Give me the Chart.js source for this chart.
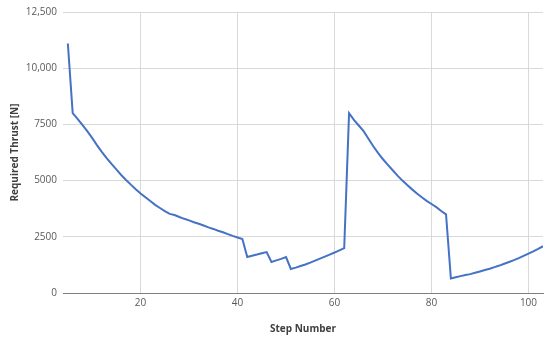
<!DOCTYPE html>
<html>
<head>
<meta charset="utf-8">
<script src="https://cdn.jsdelivr.net/npm/chart.js@4"></script>
<style>
  html, body { margin: 0; padding: 0; background: #fff; }
  #wrap { width: 550px; height: 339px; }
</style>
</head>
<body>
<div id="wrap"><canvas id="thrustChart" width="550" height="339"></canvas></div>
<script>
// step numbers 5..103
const steps = []
for (let s = 5; s <= 103; s++) steps.push(s)

const thrust = [
  11100, 8000, 7750, 7480, 7200, 6900, 6580, 6280, 6000, 5740,   // 5-14
  5500, 5250, 5030, 4820, 4620, 4430, 4260, 4090, 3920, 3780,    // 15-24
  3640, 3520, 3470, 3380, 3300, 3230, 3150, 3080, 3000, 2920,    // 25-34
  2850, 2770, 2700, 2620, 2540, 2470, 2400, 1600, 1660, 1710,    // 35-44
  1770, 1820, 1380, 1450, 1520, 1600, 1070, 1130, 1200, 1270,    // 45-54
  1350, 1440, 1530, 1620, 1710, 1800, 1900, 2000, 8000, 7700,    // 55-64
  7450, 7200, 6860, 6530, 6220, 5950, 5700, 5460, 5220, 5000,    // 65-74
  4800, 4610, 4430, 4260, 4100, 3960, 3820, 3650, 3500, 650,     // 75-84
  700, 750, 800, 840, 900, 960, 1020, 1080, 1150, 1220,          // 85-94
  1300, 1380, 1460, 1550, 1650, 1750, 1850, 1960, 2080           // 95-103
]

const xTicks = [20, 40, 60, 80, 100]
const yTicks = [0, 2500, 5000, 7500, 10000, 12500]
const yTickLabels = ["0", "2500", "5000", "7500", "10,000", "12,500"]

const font = "'Open Sans', 'Liberation Sans', sans-serif"

new Chart(document.getElementById('thrustChart'), {
  type: 'line',
  data: {
    datasets: [{
      data: steps.map((s, i) => ({ x: s, y: thrust[i] })),
      borderColor: '#4472C4',
      borderWidth: 2,
      pointRadius: 0,
      tension: 0,
      fill: false
    }]
  },
  options: {
    responsive: false,
    animation: false,
    layout: { padding: { top: 11, right: 7, left: 0, bottom: 0 } },
    plugins: { legend: { display: false }, tooltip: { enabled: false } },
    scales: {
      x: {
        type: 'linear',
        min: 4,
        max: 103,
        afterBuildTicks: axis => { axis.ticks = xTicks.map(v => ({ value: v })) },
        afterFit: axis => { axis.height = 46 },
        ticks: { color: '#595959', font: { family: font, size: 10 }, padding: 4, maxRotation: 0 },
        grid: { color: '#d9d9d9', lineWidth: 1, drawTicks: false },
        border: { display: true, color: '#7f7f7f', width: 1 },
        title: {
          display: true, text: 'Step Number', color: '#404040',
          font: { family: font, size: 10, weight: 'bold' }, padding: { top: 10 }
        }
      },
      y: {
        min: 0,
        max: 12500,
        afterBuildTicks: axis => { axis.ticks = yTicks.map(v => ({ value: v })) },
        afterFit: axis => { axis.width = 63 },
        ticks: {
          color: '#595959', font: { family: font, size: 10 }, padding: 6,
          callback: v => yTickLabels[yTicks.indexOf(v)]
        },
        grid: { color: '#d9d9d9', lineWidth: 1, drawTicks: false },
        border: { display: false },
        title: {
          display: true, text: 'Required Thrust [N]', color: '#404040',
          font: { family: font, size: 10, weight: 'bold' }, padding: { top: 9, bottom: 6 }
        }
      }
    }
  }
})
</script>
</body>
</html>
